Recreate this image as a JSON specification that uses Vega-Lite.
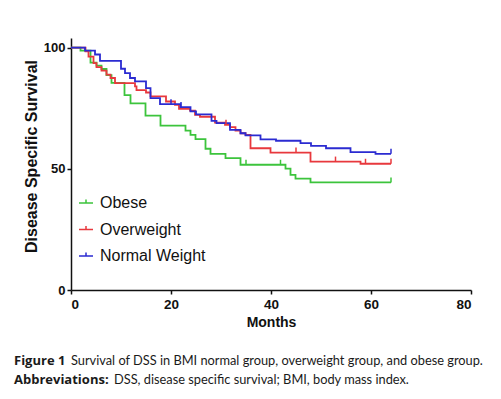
{
  "$schema": "https://vega.github.io/schema/vega-lite/v6.json",
  "width": 400,
  "height": 252,
  "autosize": {"type": "none"},
  "padding": {"left": 71, "top": 38, "right": 30, "bottom": 109},
  "background": "white",
  "config": {
    "view": {"stroke": null},
    "axis": {
      "grid": false,
      "domainColor": "#111111",
      "domainWidth": 1.5,
      "tickColor": "#111111",
      "tickWidth": 1.5,
      "tickSize": 4,
      "labelFont": "Liberation Sans",
      "labelFontWeight": "bold",
      "labelColor": "#111111",
      "titleFont": "Liberation Sans",
      "titleFontWeight": "bold",
      "titleColor": "#111111"
    }
  },
  "datasets": {
    "km": [
      {"group": "Obese", "month": 0, "surv": 100},
      {"group": "Obese", "month": 1.9, "surv": 98.8},
      {"group": "Obese", "month": 3.9, "surv": 93.8},
      {"group": "Obese", "month": 5.1, "surv": 92.6},
      {"group": "Obese", "month": 6.1, "surv": 91.2},
      {"group": "Obese", "month": 7.1, "surv": 88.7},
      {"group": "Obese", "month": 8.1, "surv": 85.5},
      {"group": "Obese", "month": 10.7, "surv": 80.4},
      {"group": "Obese", "month": 11.9, "surv": 77},
      {"group": "Obese", "month": 14.9, "surv": 72},
      {"group": "Obese", "month": 17.9, "surv": 67.8},
      {"group": "Obese", "month": 22.9, "surv": 65.8},
      {"group": "Obese", "month": 23.9, "surv": 64},
      {"group": "Obese", "month": 24.9, "surv": 62.3},
      {"group": "Obese", "month": 26.9, "surv": 58.3},
      {"group": "Obese", "month": 27.9, "surv": 56.2},
      {"group": "Obese", "month": 30.9, "surv": 54.4},
      {"group": "Obese", "month": 33.9, "surv": 51.7},
      {"group": "Obese", "month": 42.9, "surv": 50.1},
      {"group": "Obese", "month": 43.9, "surv": 47.5},
      {"group": "Obese", "month": 44.9, "surv": 46},
      {"group": "Obese", "month": 47.9, "surv": 44.4},
      {"group": "Obese", "month": 64, "surv": 44.4},
      {"group": "Overweight", "month": 0, "surv": 100},
      {"group": "Overweight", "month": 2.9, "surv": 98.5},
      {"group": "Overweight", "month": 3.5, "surv": 96.3},
      {"group": "Overweight", "month": 4.5, "surv": 93.6},
      {"group": "Overweight", "month": 5.1, "surv": 92},
      {"group": "Overweight", "month": 6.1, "surv": 90.5},
      {"group": "Overweight", "month": 7.1, "surv": 88.9},
      {"group": "Overweight", "month": 7.9, "surv": 87.5},
      {"group": "Overweight", "month": 8.8, "surv": 85.4},
      {"group": "Overweight", "month": 12.8, "surv": 84},
      {"group": "Overweight", "month": 13.1, "surv": 82.5},
      {"group": "Overweight", "month": 15, "surv": 81.5},
      {"group": "Overweight", "month": 15.9, "surv": 79.9},
      {"group": "Overweight", "month": 19, "surv": 77.8},
      {"group": "Overweight", "month": 20.8, "surv": 76.4},
      {"group": "Overweight", "month": 21.6, "surv": 74.8},
      {"group": "Overweight", "month": 23.8, "surv": 74},
      {"group": "Overweight", "month": 24.8, "surv": 72.3},
      {"group": "Overweight", "month": 25.8, "surv": 71.5},
      {"group": "Overweight", "month": 28.8, "surv": 69.1},
      {"group": "Overweight", "month": 30.8, "surv": 68.2},
      {"group": "Overweight", "month": 31.8, "surv": 67.2},
      {"group": "Overweight", "month": 32.9, "surv": 65.8},
      {"group": "Overweight", "month": 33.9, "surv": 64.7},
      {"group": "Overweight", "month": 34.9, "surv": 64},
      {"group": "Overweight", "month": 35.9, "surv": 58.5},
      {"group": "Overweight", "month": 39.9, "surv": 56.7},
      {"group": "Overweight", "month": 47.9, "surv": 53},
      {"group": "Overweight", "month": 57.9, "surv": 52.1},
      {"group": "Overweight", "month": 64, "surv": 52.1},
      {"group": "Normal Weight", "month": 0, "surv": 100},
      {"group": "Normal Weight", "month": 2.8, "surv": 98.8},
      {"group": "Normal Weight", "month": 4.8, "surv": 97.2},
      {"group": "Normal Weight", "month": 5.8, "surv": 94.6},
      {"group": "Normal Weight", "month": 10, "surv": 91.3},
      {"group": "Normal Weight", "month": 10.8, "surv": 89.5},
      {"group": "Normal Weight", "month": 11.8, "surv": 87.5},
      {"group": "Normal Weight", "month": 12.8, "surv": 86.1},
      {"group": "Normal Weight", "month": 15, "surv": 83.3},
      {"group": "Normal Weight", "month": 15.9, "surv": 79.2},
      {"group": "Normal Weight", "month": 17.8, "surv": 76.7},
      {"group": "Normal Weight", "month": 21.9, "surv": 75.5},
      {"group": "Normal Weight", "month": 23.9, "surv": 73.7},
      {"group": "Normal Weight", "month": 25, "surv": 72.5},
      {"group": "Normal Weight", "month": 28.1, "surv": 69.8},
      {"group": "Normal Weight", "month": 29.1, "surv": 68.9},
      {"group": "Normal Weight", "month": 31.8, "surv": 66.1},
      {"group": "Normal Weight", "month": 33.9, "surv": 64.7},
      {"group": "Normal Weight", "month": 34.9, "surv": 63.8},
      {"group": "Normal Weight", "month": 37.9, "surv": 62.2},
      {"group": "Normal Weight", "month": 41, "surv": 61.6},
      {"group": "Normal Weight", "month": 45.9, "surv": 60.6},
      {"group": "Normal Weight", "month": 48, "surv": 59.5},
      {"group": "Normal Weight", "month": 51, "surv": 58.5},
      {"group": "Normal Weight", "month": 55.9, "surv": 56.9},
      {"group": "Normal Weight", "month": 60.9, "surv": 56.2},
      {"group": "Normal Weight", "month": 64, "surv": 56.2}
    ],
    "cens": [
      {"group": "Obese", "month": 35, "surv": 51.7},
      {"group": "Obese", "month": 41.9, "surv": 51.7},
      {"group": "Obese", "month": 64, "surv": 44.4},
      {"group": "Overweight", "month": 31, "surv": 68.2},
      {"group": "Overweight", "month": 45, "surv": 56.7},
      {"group": "Overweight", "month": 52.9, "surv": 53},
      {"group": "Overweight", "month": 58.9, "surv": 52.1},
      {"group": "Overweight", "month": 64, "surv": 52.1},
      {"group": "Normal Weight", "month": 20, "surv": 76.7},
      {"group": "Normal Weight", "month": 22, "surv": 75.5},
      {"group": "Normal Weight", "month": 64, "surv": 56.2}
    ],
    "one": [{"k": 1}]
  },
  "layer": [
    {
      "data": {"name": "km"},
      "mark": {"type": "line", "interpolate": "step-after", "strokeWidth": 1.8},
      "encoding": {
        "x": {
          "field": "month", "type": "quantitative",
          "scale": {"domain": [0, 80], "nice": false},
          "axis": {
            "values": [0, 20, 40, 60, 80],
            "title": "Months",
            "titleFontSize": 14,
            "titlePadding": 5,
            "labelFontSize": 13.5,
            "labelPadding": 3
          }
        },
        "y": {
          "field": "surv", "type": "quantitative",
          "scale": {"domain": [0, 104], "nice": false},
          "axis": {
            "values": [0, 50, 100],
            "title": "Disease Specific Survival",
            "titleFontSize": 16,
            "titleAngle": 270,
            "titleAlign": "center",
            "titleBaseline": "middle",
            "titleX": -40,
            "titleY": 118,
            "labelFontSize": 13,
            "labelPadding": 2
          }
        },
        "color": {
          "field": "group", "type": "nominal",
          "scale": {"domain": ["Obese", "Overweight", "Normal Weight"], "range": ["#3cc43c", "#e8383d", "#2b2bd1"]},
          "legend": {
            "title": null,
            "orient": "none",
            "legendX": 7,
            "legendY": 157,
            "padding": 0,
            "labelFont": "Liberation Sans",
            "labelFontSize": 16,
            "labelColor": "#111111",
            "symbolType": "M-1,0H1M0,0V-0.5",
            "symbolSize": 196,
            "symbolStrokeWidth": 1.5,
            "rowPadding": 10.5,
            "labelOffset": 6
          }
        }
      }
    },
    {
      "data": {"name": "cens"},
      "mark": {"type": "tick", "orient": "vertical", "size": 5, "thickness": 1.5, "yOffset": -2.5, "opacity": 1},
      "encoding": {
        "x": {"field": "month", "type": "quantitative"},
        "y": {"field": "surv", "type": "quantitative"},
        "color": {"field": "group", "type": "nominal", "legend": null}
      }
    },
    {
      "data": {"name": "one"},
      "mark": {"type": "text", "text": "Figure 1", "font": "Open Sans", "fontSize": 13, "fontWeight": "bold", "align": "left", "baseline": "middle", "color": "#1a1a1a"},
      "encoding": {"x": {"value": -57}, "y": {"value": 323}}
    },
    {
      "data": {"name": "one"},
      "mark": {"type": "text", "text": "Survival of DSS in BMI normal group, overweight group, and obese group.", "font": "Lato", "fontSize": 12.8, "align": "left", "baseline": "middle", "color": "#1a1a1a"},
      "encoding": {"x": {"value": 0}, "y": {"value": 323}}
    },
    {
      "data": {"name": "one"},
      "mark": {"type": "text", "text": "Abbreviations:", "font": "Open Sans", "fontSize": 13, "fontWeight": "bold", "align": "left", "baseline": "middle", "color": "#1a1a1a"},
      "encoding": {"x": {"value": -57}, "y": {"value": 342}}
    },
    {
      "data": {"name": "one"},
      "mark": {"type": "text", "text": "DSS, disease specific survival; BMI, body mass index.", "font": "Lato", "fontSize": 12.8, "align": "left", "baseline": "middle", "color": "#1a1a1a"},
      "encoding": {"x": {"value": 43}, "y": {"value": 342}}
    }
  ]
}
